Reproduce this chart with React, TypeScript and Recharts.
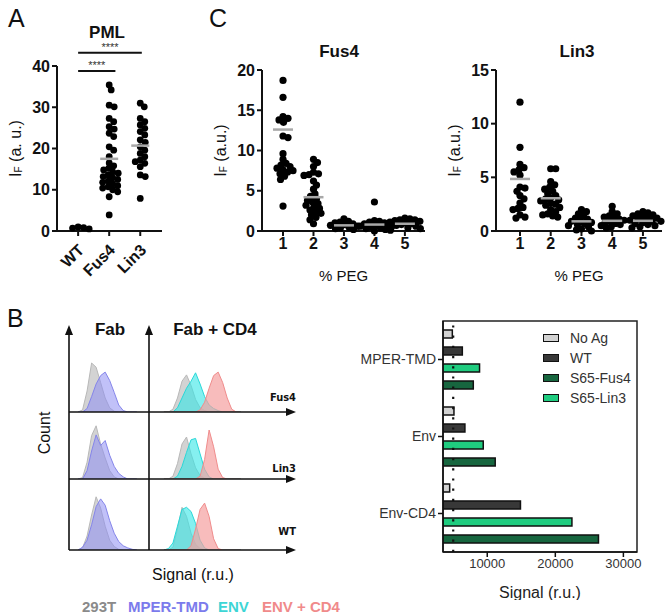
import React from 'react';
import {
  ScatterChart, Scatter, XAxis, YAxis, ReferenceLine,
  AreaChart, Area, BarChart, Bar, ReferenceArea,
} from 'recharts';

const FONT = 'Arial, "Liberation Sans", Helvetica, sans-serif';

// ---- A: PML ----
const pmlGroups = ['WT', 'Fus4', 'Lin3'];
const pmlWT = [1.0, 0.8, 0.7, 0.5];
const pmlFus4 = [35.4, 34.2, 30.5, 30.1, 27.3, 26.5, 25.3, 24.7, 23.7, 22.9, 20.4, 19.6, 18.0, 16.5, 15.8,
  15.2, 14.8, 14.3, 14.0, 13.6, 13.2, 12.9, 12.5, 12.1, 11.8, 11.4, 11.0, 10.7, 10.4, 10.0, 9.5, 8.3, 3.9];
const pmlLin3 = [31.0, 30.1, 27.3, 26.5, 25.7, 24.9, 24.1, 23.3, 22.1, 21.5, 20.4, 19.6, 18.8, 18.0, 17.2,
  16.8, 16.4, 15.6, 13.6, 13.2, 7.9];
const pmlMeans = [0.6, 17.5, 20.7];
const pmlTicks = [0, 10, 20, 30, 40];

// ---- C: % PEG ----
const pegLevels = [1, 2, 3, 4, 5];
const fus4Peg1 = [18.7, 16.6, 14.2, 14.0, 13.8, 13.5, 11.8, 11.6, 9.6, 8.9, 8.4, 8.2, 8.0, 7.8, 7.6, 7.5, 7.3, 7.1, 6.8, 6.4, 3.1];
const fus4Peg2 = [8.9, 8.5, 8.0, 7.3, 7.1, 7.0, 6.9, 6.2, 5.7, 5.2, 4.6, 4.3, 4.0, 3.8, 3.6, 3.4, 3.2, 3.0, 2.8, 2.6, 2.4, 2.2, 2.0, 1.7, 1.4, 0.9];
const fus4Peg3 = [1.5, 1.2, 1.1, 1.0, 0.9, 0.8, 0.7, 0.6, 0.5, 0.4, 0.3, 0.2];
const fus4Peg4 = [3.6, 1.3, 1.2, 1.1, 1.0, 0.9, 0.8, 0.7, 0.6, 0.5, 0.4, 0.3, 0.2, 0.1, 0.0];
const fus4Peg5 = [1.6, 1.5, 1.4, 1.3, 1.2, 1.1, 1.0, 0.9, 0.8, 0.7, 0.6, 0.5, 0.4, 0.3, 1.4];
const fus4PegMeans = [12.6, 4.2, 0.7, 0.8, 0.9];
const fus4Ticks = [0, 5, 10, 15, 20];

const lin3Peg1 = [12.0, 7.8, 6.2, 5.9, 5.7, 5.5, 5.2, 4.1, 4.0, 3.7, 3.3, 3.0, 2.6, 2.2, 2.1, 2.0, 1.5, 1.2, 1.3];
const lin3Peg2 = [5.8, 5.8, 4.6, 4.3, 4.1, 3.9, 3.7, 3.5, 3.3, 3.1, 3.0, 2.8, 2.6, 2.4, 2.2, 2.0, 1.8, 1.6, 1.5, 1.4, 1.3, 2.9, 2.5];
const lin3Peg3 = [2.0, 1.8, 1.6, 1.4, 1.2, 1.1, 1.0, 0.9, 0.8, 0.7, 0.6, 0.5, 0.4, 0.2, 0.1, 0.0];
const lin3Peg4 = [2.3, 1.8, 1.6, 1.4, 1.3, 1.2, 1.1, 1.0, 0.9, 0.8, 0.7, 0.6, 0.5, 0.4, 0.3];
const lin3Peg5 = [1.8, 1.7, 1.6, 1.5, 1.4, 1.3, 1.2, 1.1, 1.0, 0.9, 0.8, 0.7, 0.6, 0.5, 0.4, 0.3, 1.2, 0.9];
const lin3PegMeans = [4.85, 3.05, 0.9, 0.95, 0.95];
const lin3Ticks = [0, 5, 10, 15];

// ---- B: flow histograms (counts per bin) ----
const fabBins = [4, 6, 8, 10, 12, 14, 16, 18, 20, 22, 24, 26, 28, 30];
const cd4Bins = [42, 44, 46, 48, 50, 52, 54, 56, 58, 60, 62, 64, 66, 68, 70, 72, 74, 76];
const histRowsNames = ['Fus4', 'Lin3', 'WT'];

const fus4FabGray = [0, 3, 30, 70, 64, 42, 20, 6, 1, 0, 0, 0, 0, 0];
const fus4FabMper = [0, 0, 5, 22, 40, 52, 57, 45, 28, 10, 2, 0, 0, 0];
const fus4Cd4Gray = [0, 0, 4, 20, 44, 53, 38, 18, 6, 2, 0, 0, 0, 0, 0, 0, 0, 0];
const fus4Cd4Env = [0, 0, 0, 6, 20, 34, 44, 56, 40, 22, 10, 5, 2, 0, 0, 0, 0, 0];
const fus4Cd4EnvCd4 = [0, 0, 0, 0, 0, 0, 0, 0, 3, 14, 34, 52, 57, 42, 20, 4, 0, 0];

const lin3FabGray = [0, 2, 24, 62, 76, 50, 30, 12, 3, 0, 0, 0, 0, 0];
const lin3FabMper = [0, 0, 12, 40, 63, 48, 55, 34, 18, 8, 3, 0, 0, 0];
const lin3Cd4Gray = [0, 0, 4, 22, 50, 60, 36, 16, 5, 1, 0, 0, 0, 0, 0, 0, 0, 0];
const lin3Cd4Env = [0, 0, 0, 4, 18, 38, 56, 58, 36, 14, 3, 0, 0, 0, 0, 0, 0, 0];
const lin3Cd4EnvCd4 = [0, 0, 0, 0, 0, 0, 0, 0, 4, 28, 70, 46, 14, 2, 0, 0, 0, 0];

const wtFabGray = [0, 3, 20, 50, 76, 60, 34, 14, 5, 1, 0, 0, 0, 0];
const wtFabMper = [0, 4, 14, 36, 62, 73, 64, 42, 24, 12, 6, 3, 1, 0];
const wtCd4Gray = [0, 0, 4, 30, 61, 48, 24, 8, 2, 0, 0, 0, 0, 0, 0, 0, 0, 0];
const wtCd4Env = [0, 2, 10, 34, 58, 61, 55, 38, 14, 3, 0, 0, 0, 0, 0, 0, 0, 0];
const wtCd4EnvCd4 = [0, 0, 0, 0, 0, 0, 6, 30, 58, 67, 48, 16, 2, 0, 0, 0, 0, 0];

const histLegend = [
  { name: '293T', color: '#8a8a8a' },
  { name: 'MPER-TMD', color: '#7b7bec' },
  { name: 'ENV', color: '#3dd5d5' },
  { name: 'ENV + CD4', color: '#f08a8a' },
];

// ---- B: bar chart ----
const barCats = ['MPER-TMD', 'Env', 'Env-CD4'];
const noAgSignal = [4870, 5110, 4480];
const wtSignal = [6340, 6720, 14880];
const s65Lin3Signal = [8870, 9410, 22440];
const s65Fus4Signal = [7950, 11170, 26340];
const signalTicks = [10000, 20000, 30000];
const noAgThreshold = 5000;

const barSeries = [
  { key: 'noAg', name: 'No Ag', color: '#d2d2d2' },
  { key: 'wt', name: 'WT', color: '#383838' },
  { key: 'lin3', name: 'S65-Lin3', color: '#1fcc7f' },
  { key: 'fus4', name: 'S65-Fus4', color: '#17663f' },
];
const legendOrder = ['noAg', 'wt', 'fus4', 'lin3'];

const barData = barCats.map((name, i) => ({
  name, noAg: noAgSignal[i], wt: wtSignal[i], lin3: s65Lin3Signal[i], fus4: s65Fus4Signal[i],
}));

// simple beeswarm: spread overlapping dots sideways (Prism style)
function swarm(values: number[], pxPerValue: number, pxPerCat: number, minDist: number) {
  const order = values.map((_, i) => i).sort((a, b) => values[b] - values[a]);
  const placed: { x: number; y: number }[] = [];
  const out = values.map(() => 0);
  order.forEach((i) => {
    const y = values[i] * pxPerValue;
    let pick = 0;
    for (let s = 0; s < 400; s++) {
      const c = s === 0 ? 0 : (s % 2 ? 1 : -1) * Math.ceil(s / 2) * 0.5;
      if (placed.every((p) => (p.x - c) ** 2 + (p.y - y) ** 2 >= minDist * minDist)) { pick = c; break; }
    }
    placed.push({ x: pick, y });
    out[i] = pick / pxPerCat;
  });
  return out;
}

function stripPoints(groups: number[][], pxPerValue: number, pxPerCat: number, minDist: number) {
  return groups.flatMap((vals, g) => {
    const offs = swarm(vals, pxPerValue, pxPerCat, minDist);
    return vals.map((v, i) => ({ x: g + 1 + offs[i], y: v }));
  });
}

const meanPoints = (means: number[]) => means.map((m, i) => ({ x: i + 1, y: m }));

const dotShape = (r: number) => (p: any) => <circle cx={p.cx} cy={p.cy} r={r} fill="#000" />;
const meanShape = (half: number) => (p: any) => (
  <line x1={p.cx - half} x2={p.cx + half} y1={p.cy} y2={p.cy} stroke="#a8a8a8" strokeWidth={2.5} />
);

const ifLabel = (dx: number, unit: string) => (props: any) => {
  const vb = props.viewBox;
  const x = vb.x + dx;
  const y = vb.y + vb.height / 2;
  return (
    <text x={x} y={y} transform={`rotate(-90 ${x} ${y})`} textAnchor="middle" dominantBaseline="central"
      fontFamily={FONT} fontSize={16} fill="#111">
      I<tspan fontSize={10} dy={3}>F</tspan><tspan dy={-3}>{unit}</tspan>
    </text>
  );
};

const RotatedTick = (props: any) => {
  const { x, y, payload } = props;
  const ax = x + 3;
  const ay = y + 9;
  return (
    <text x={ax} y={ay} dy="0.35em" transform={`rotate(-45 ${ax} ${ay})`} textAnchor="end"
      fontFamily={FONT} fontSize={16} fontWeight={700} fill="#111">
      {pmlGroups[payload.value - 1]}
    </text>
  );
};

const starLabel = (props: any) => {
  const vb = props.viewBox;
  return (
    <text x={vb.x + vb.width / 2} y={vb.y - 2} textAnchor="middle" fontFamily={FONT} fontSize={11} fill="#333">****</text>
  );
};

const axisStyle = { stroke: '#111', strokeWidth: 2 };
const boldTick = { fontSize: 16, fontWeight: 700, fill: '#111', fontFamily: FONT };

function Txt({ x, y, size, bold, color = '#111', anchor = 'middle', family = FONT, children }: any) {
  const tx = anchor === 'middle' ? '-50%' : anchor === 'end' ? '-100%' : '0';
  return (
    <div style={{
      position: 'absolute', left: x, top: y, transform: `translate(${tx}, -50%)`, fontSize: size,
      fontWeight: bold ? 700 : 400, color, fontFamily: family, lineHeight: 1, whiteSpace: 'nowrap',
    }}>{children}</div>
  );
}

function PegPanel({ left, width, yWidth, groups, means, ticks, max, right, domain, pxPerCat }: any) {
  const plotH = 290 - 70 - 59;
  const pts = stripPoints(groups, plotH / max, pxPerCat, 5);
  return (
    <div style={{ position: 'absolute', left, top: 0 }}>
      <ScatterChart width={width} height={290} margin={{ top: 70, right, left: 0, bottom: 0 }}>
        <XAxis type="number" dataKey="x" domain={domain} ticks={pegLevels} height={59}
          axisLine={axisStyle} tickLine={axisStyle} tickSize={5} tick={boldTick}
          label={{ value: '% PEG', position: 'insideBottom', offset: 9, fontSize: 15, fill: '#111', fontFamily: FONT }} />
        <YAxis type="number" dataKey="y" domain={[0, max]} ticks={ticks} width={yWidth}
          axisLine={axisStyle} tickLine={axisStyle} tickSize={5} tick={boldTick}
          label={ifLabel(yWidth - 42, ' (a.u.)')} />
        <Scatter data={pts} shape={dotShape(3.6)} isAnimationActive={false} />
        <Scatter data={meanPoints(means)} shape={meanShape(10)} isAnimationActive={false} />
      </ScatterChart>
    </div>
  );
}

function HistRow({ top, fabG, fabB, cdG, cdE, cdC }: any) {
  const rows = [
    ...fabBins.map((x, i) => ({ x, fabGray: fabG[i], fabMper: fabB[i] })),
    ...cd4Bins.map((x, i) => ({ x, cd4Gray: cdG[i], cd4Env: cdE[i], cd4Cd4: cdC[i] })),
  ];
  const area = (key: string, fill: string, stroke: string, op: number) => (
    <Area key={key} type="linear" dataKey={key} fill={fill} fillOpacity={op} stroke={stroke} strokeWidth={1}
      dot={false} activeDot={false} isAnimationActive={false} />
  );
  return (
    <div style={{ position: 'absolute', left: 69, top }}>
      <AreaChart width={226} height={70} data={rows} margin={{ top: 0, right: 0, left: 0, bottom: 0 }}>
        <XAxis type="number" dataKey="x" domain={[0, 100]} hide />
        <YAxis type="number" domain={[0, 100]} hide />
        {area('fabGray', '#c4c4c4', '#b8b8b8', 0.75)}
        {area('fabMper', '#8e8ef2', '#8585ea', 0.55)}
        {area('cd4Gray', '#c4c4c4', '#b8b8b8', 0.75)}
        {area('cd4Env', '#34e6e6', '#2ad8d8', 0.6)}
        {area('cd4Cd4', '#f5a0a0', '#f08c8c', 0.7)}
      </AreaChart>
    </div>
  );
}

export default function App() {
  const pmlPts = stripPoints([pmlWT, pmlFus4, pmlLin3], 165 / 40, 31, 5.2);
  const baselines = [412, 479, 550];
  const hist = [
    [fus4FabGray, fus4FabMper, fus4Cd4Gray, fus4Cd4Env, fus4Cd4EnvCd4],
    [lin3FabGray, lin3FabMper, lin3Cd4Gray, lin3Cd4Env, lin3Cd4EnvCd4],
    [wtFabGray, wtFabMper, wtCd4Gray, wtCd4Env, wtCd4EnvCd4],
  ];
  const legendX = [82, 128, 218, 262];

  return (
    <div style={{ position: 'absolute', left: 0, top: 0, width: 666, height: 613, background: '#fff', overflow: 'hidden', fontFamily: FONT }}>
      {/* panel letters and titles */}
      <Txt x={8} y={18} size={25} anchor="start">A</Txt>
      <Txt x={209} y={18} size={25} anchor="start">C</Txt>
      <Txt x={7} y={318} size={25} anchor="start">B</Txt>
      <Txt x={107} y={32} size={17} bold>PML</Txt>
      <Txt x={339} y={51} size={17} bold>Fus4</Txt>
      <Txt x={577} y={51} size={17} bold>Lin3</Txt>

      {/* A */}
      <div style={{ position: 'absolute', left: 0, top: 0 }}>
        <ScatterChart width={170} height={290} margin={{ top: 66, right: 8, left: 0, bottom: 0 }}>
          <XAxis type="number" dataKey="x" domain={[0.32, 3.7]} ticks={[1, 2, 3]} height={59}
            axisLine={axisStyle} tickLine={axisStyle} tickSize={5} tick={<RotatedTick />} />
          <YAxis type="number" dataKey="y" domain={[0, 40]} ticks={pmlTicks} width={57}
            axisLine={axisStyle} tickLine={axisStyle} tickSize={5} tick={boldTick}
            label={ifLabel(15, ' (a. u.)')} />
          <ReferenceLine segment={[{ x: 1, y: 43.2 }, { x: 3.05, y: 43.2 }]} stroke="#111" strokeWidth={2}
            ifOverflow="visible" label={starLabel} />
          <ReferenceLine segment={[{ x: 1, y: 38.8 }, { x: 2.2, y: 38.8 }]} stroke="#111" strokeWidth={2}
            ifOverflow="visible" label={starLabel} />
          <Scatter data={meanPoints(pmlMeans).slice(0, 1)} shape={meanShape(9)} isAnimationActive={false} />
          <Scatter data={pmlPts} shape={dotShape(3.4)} isAnimationActive={false} />
          <Scatter data={meanPoints(pmlMeans).slice(1)} shape={meanShape(9)} isAnimationActive={false} />
        </ScatterChart>
      </div>

      {/* C */}
      <PegPanel left={200} width={230} yWidth={62} right={5} domain={[0.31, 5.66]} pxPerCat={30.5}
        groups={[fus4Peg1, fus4Peg2, fus4Peg3, fus4Peg4, fus4Peg5]} means={fus4PegMeans} ticks={fus4Ticks} max={20} />
      <PegPanel left={436} width={230} yWidth={60} right={4} domain={[0.22, 5.62]} pxPerCat={30.75}
        groups={[lin3Peg1, lin3Peg2, lin3Peg3, lin3Peg4, lin3Peg5]} means={lin3PegMeans} ticks={lin3Ticks} max={15} />

      {/* B: histograms */}
      {hist.map((h, i) => (
        <HistRow key={i} top={baselines[i] - 70} fabG={h[0]} fabB={h[1]} cdG={h[2]} cdE={h[3]} cdC={h[4]} />
      ))}
      <svg width={666} height={613} style={{ position: 'absolute', left: 0, top: 0, pointerEvents: 'none' }}>
        {[69, 149].map((x) => (
          <g key={x}>
            <line x1={x} x2={x} y1={333} y2={550} stroke="#111" strokeWidth={1.6} />
            <polygon points={`${x},325 ${x - 4},335 ${x + 4},335`} fill="#111" />
          </g>
        ))}
        {baselines.map((y) => (
          <g key={y}>
            <line x1={69} x2={289} y1={y} y2={y} stroke="#111" strokeWidth={1.6} />
            <polygon points={`296,${y} 286,${y - 4} 286,${y + 4}`} fill="#111" />
          </g>
        ))}
      </svg>
      <Txt x={110} y={329} size={17} bold>Fab</Txt>
      <Txt x={215} y={329} size={17} bold>Fab + CD4</Txt>
      {histRowsNames.map((n, i) => (
        <Txt key={n} x={296} y={baselines[i] - (i === 0 ? 15 : i === 1 ? 11 : 19)} size={11} bold anchor="end"
          family={'"Liberation Sans Narrow", "DejaVu Sans Condensed", Arial, sans-serif'}>{n}</Txt>
      ))}
      <div style={{
        position: 'absolute', left: 45, top: 433, transform: 'translate(-50%, -50%) rotate(-90deg)',
        fontSize: 16, color: '#111', lineHeight: 1, whiteSpace: 'nowrap',
      }}>Count</div>
      <Txt x={193} y={575} size={16}>Signal (r.u.)</Txt>
      {histLegend.map((l, i) => (
        <Txt key={l.name} x={legendX[i]} y={606} size={15} bold color={l.color} anchor="start">{l.name}</Txt>
      ))}

      {/* B: bar chart */}
      <div style={{ position: 'absolute', left: 340, top: 300 }}>
        <BarChart width={326} height={300} layout="vertical" data={barData} barSize={8} barGap={9}
          margin={{ top: 21, right: 29, left: 0, bottom: 0 }}>
          <XAxis type="number" domain={[3500, 32000]} ticks={signalTicks} allowDataOverflow height={48}
            axisLine={{ stroke: '#111', strokeWidth: 1.5 }} tickLine={{ stroke: '#111', strokeWidth: 1.5 }} tickSize={5}
            tick={{ fontSize: 13, fill: '#333', fontFamily: FONT }}
            label={{ value: 'Signal (r.u.)', position: 'insideBottom', offset: 2, fontSize: 16, fill: '#222', fontFamily: FONT }} />
          <YAxis type="category" dataKey="name" width={103}
            axisLine={{ stroke: '#111', strokeWidth: 1.5 }} tickLine={{ stroke: '#111', strokeWidth: 1.5 }} tickSize={5}
            tick={{ fontSize: 14, fill: '#333', fontFamily: FONT }} />
          <ReferenceLine x={noAgThreshold} stroke="#111" strokeWidth={2.2} strokeDasharray="2.2 8" />
          {barSeries.map((s) => (
            <Bar key={s.key} dataKey={s.key} name={s.name} fill={s.color} stroke="#111" strokeWidth={1.5}
              isAnimationActive={false} />
          ))}
          <ReferenceArea x1={3500} x2={32000} fill="none" stroke="#222" strokeWidth={1.5} ifOverflow="visible" />
        </BarChart>
      </div>
      <div style={{ position: 'absolute', left: 543, top: 338 }}>
        {legendOrder.map((k, i) => {
          const s = barSeries.find((b) => b.key === k)!;
          return (
            <div key={k} style={{ position: 'absolute', left: 0, top: i * 20 - 8, height: 16, display: 'flex', alignItems: 'center', whiteSpace: 'nowrap' }}>
              <span style={{ width: 16, height: 8, background: s.color, border: '1.5px solid #111', boxSizing: 'border-box', display: 'inline-block' }} />
              <span style={{ marginLeft: 11, fontSize: 14, color: '#333', lineHeight: 1 }}>{s.name}</span>
            </div>
          );
        })}
      </div>
    </div>
  );
}
